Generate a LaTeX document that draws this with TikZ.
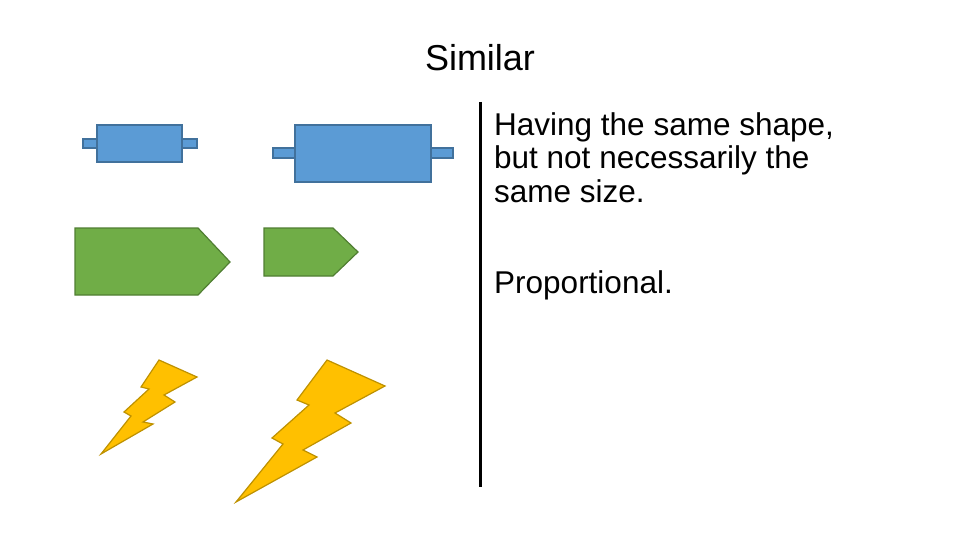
\documentclass[tikz,border=0pt]{standalone}
\usepackage{fontspec}
\setmainfont{Liberation Sans}
\begin{document}
\begin{tikzpicture}[x=1pt,y=-1pt,
  blu/.style={fill={rgb,255:red,91;green,155;blue,213},draw={rgb,255:red,65;green,113;blue,156},line width=1.2pt},
  grn/.style={fill={rgb,255:red,112;green,173;blue,71},draw={rgb,255:red,80;green,126;blue,50},line width=1.2pt},
  ylw/.style={fill={rgb,255:red,255;green,192;blue,0},draw={rgb,255:red,190;green,145;blue,0},line width=1.2pt,line join=miter},
  txt/.style={font=\fontsize{31.5}{33.5}\selectfont,align=left,anchor=north west,inner sep=0pt}]
\useasboundingbox (0,0) rectangle (960,540);
\node[font=\fontsize{36}{40}\selectfont] (title) at (480,58) {Similar};
% blue
\draw[blu] (83,139) rectangle (197,148);
\draw[blu] (97,125) rectangle (182,162);
\draw[blu] (273,148) rectangle (453,158);
\draw[blu] (295,125) rectangle (431,182);
% green
\draw[grn] (75,228)--(198,228)--(230,262)--(198,295)--(75,295)--cycle;
\draw[grn] (264,228)--(333,228)--(358,252)--(333,276)--(264,276)--cycle;
% bolts
\draw[ylw] (159,360)--(197,377)--(164,395)--(175,402)--(143,422)--(153,424)--(101,454)--(131,416)--(124,412)--(149,389)--(141,387)--cycle;
\draw[ylw] (327,360)--(385,386)--(335,413)--(351,423)--(303,450)--(317,457)--(236,502)--(283,444)--(272,438)--(309,405)--(297,400)--cycle;
% divider
\coordinate (ltop) at (480,102);
\coordinate (lbot) at (480,487);
\draw[line width=3pt] (ltop)--(lbot);
\node[txt] (t1) at (494,112) {Having the same shape,\\but not necessarily the\\same size.};
\node[txt] (t2) at (494,270) {Proportional.};
\end{tikzpicture}
\end{document}
